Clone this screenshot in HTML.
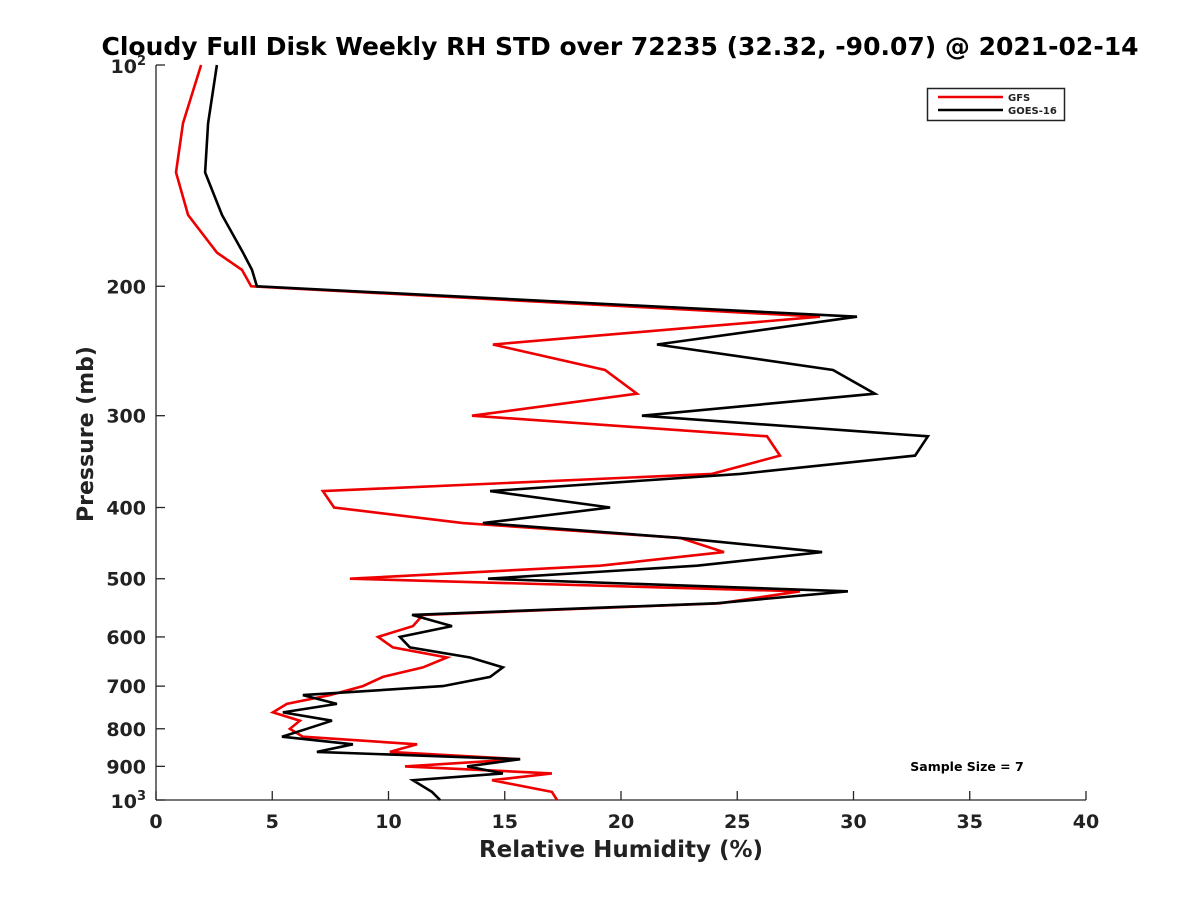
<!DOCTYPE html>
<html><head><meta charset="utf-8"><style>
html,body{margin:0;padding:0;background:#fff;}
svg text{font-family:"DejaVu Sans","Liberation Sans",sans-serif;font-weight:bold;fill:#222;}
</style></head><body>
<svg id="chart" width="1200" height="900" xmlns="http://www.w3.org/2000/svg">
<rect x="0" y="0" width="1200" height="900" fill="#fff"/>
<text x="620" y="55" text-anchor="middle" font-size="25" style="fill:#000">Cloudy Full Disk Weekly RH STD over 72235 (32.32, -90.07) @ 2021-02-14</text>
<g id="axes"></g>
<g id="series"></g>
<g>
<rect x="927.5" y="88.5" width="137" height="32" fill="#fff" stroke="#222" stroke-width="1.5"/>
<line x1="938" y1="97" x2="1003" y2="97" stroke="#e00" stroke-width="2.5"/>
<text x="1008" y="101" font-size="10">GFS</text>
<line x1="938" y1="110" x2="1003" y2="110" stroke="#000" stroke-width="2.5"/>
<text x="1008" y="114" font-size="10">GOES-16</text>
</g>
<text x="967" y="771" text-anchor="middle" font-size="12.5" style="fill:#000">Sample Size = 7</text>
<text x="621" y="857" text-anchor="middle" font-size="23">Relative Humidity (%)</text>
<text transform="translate(93,434) rotate(-90)" text-anchor="middle" font-size="22">Pressure (mb)</text>
</svg>
<script>
const pressureLevels=[100,120,140,160,180,190,200,220,240,260,280,300,320,340,360,380,400,420,440,460,480,500,520,540,560,580,600,620,640,660,680,700,720,740,760,780,800,820,840,860,880,900,920,940,975,1000];
const gfsValues=[1.94,1.16,0.86,1.38,2.62,3.70,4.09,28.56,14.49,19.31,20.69,13.59,26.28,26.84,23.91,7.18,7.66,13.20,22.54,24.43,19.10,8.34,27.70,24.26,11.48,11.05,9.55,10.19,12.52,11.48,9.76,8.90,7.48,5.63,5.03,6.19,5.76,6.32,11.23,10.06,15.66,10.71,17.03,14.45,17.03,17.25];
const goesValues=[2.62,2.24,2.11,2.84,3.74,4.13,4.34,30.15,21.55,29.12,30.92,20.90,33.20,32.65,25.12,14.37,19.53,14.06,22.54,28.65,23.27,14.28,29.76,24.09,11.01,12.73,10.49,10.92,13.51,14.92,14.37,12.34,6.32,7.78,5.46,7.57,6.49,5.42,8.47,6.92,15.66,13.38,14.92,11.05,11.87,12.22];
const xTicks=[0,5,10,15,20,25,30,35,40];
const yTickValues=[200,300,400,500,600,700,800,900];

const L=156,R=1086,T=65,B=800;
const xs=v=>L+(v-0)/(40-0)*(R-L);
const ys=p=>T+(Math.log10(p)-2)*(B-T);
const NS="http://www.w3.org/2000/svg";
const axes=document.getElementById('axes');
const ser=document.getElementById('series');
function mk(tag,attrs,parent){const e=document.createElementNS(NS,tag);for(const k in attrs)e.setAttribute(k,attrs[k]);parent.appendChild(e);return e;}

let a=mk('line',{x1:L,y1:T,x2:L,y2:B,stroke:'#262626','stroke-width':1.3},axes);


a=mk('line',{x1:L,y1:B,x2:R,y2:B,stroke:'#262626','stroke-width':1.3},axes);



xTicks.forEach(v=>{
  const x=xs(v);
  const t=mk('line',{x1:x,y1:B,x2:x,y2:B-9,stroke:'#262626','stroke-width':1.3},axes);
  
  
  const tx=mk('text',{x:x,y:B+28,'text-anchor':'middle','font-size':19},axes);
  tx.textContent=v;
  
  
});
for(let p=100;p<=1000;p+=100){
  const y=ys(p);
  const t=mk('line',{x1:L,y1:y,x2:L+9,y2:y,stroke:'#262626','stroke-width':1.3},axes);
  
  
}
yTickValues.forEach(p=>{
  const tx=mk('text',{x:L-10,y:ys(p)+7,'text-anchor':'end','font-size':19},axes);
  tx.textContent=p;
  
  
});
[[100,'2'],[1000,'3']].forEach(([p,e])=>{
  const tx=mk('text',{x:L-10,y:ys(p)+8,'text-anchor':'end','font-size':19},axes);
  tx.innerHTML='10<tspan dy="-8" font-size="13">'+e+'</tspan>';
  
  
});

function line(vals,color,name){
  const d=vals.map((v,i)=>(i?'L':'M')+xs(v).toFixed(1)+','+ys(pressureLevels[i]).toFixed(1)).join('');
  const p=mk('path',{d:d,fill:'none',stroke:color,'stroke-width':2.6,'stroke-linejoin':'miter'},ser);
  
  
}
line(gfsValues,'#e00','gfs-line');
line(goesValues,'#000','goes16-line');
</script>
</body></html>
